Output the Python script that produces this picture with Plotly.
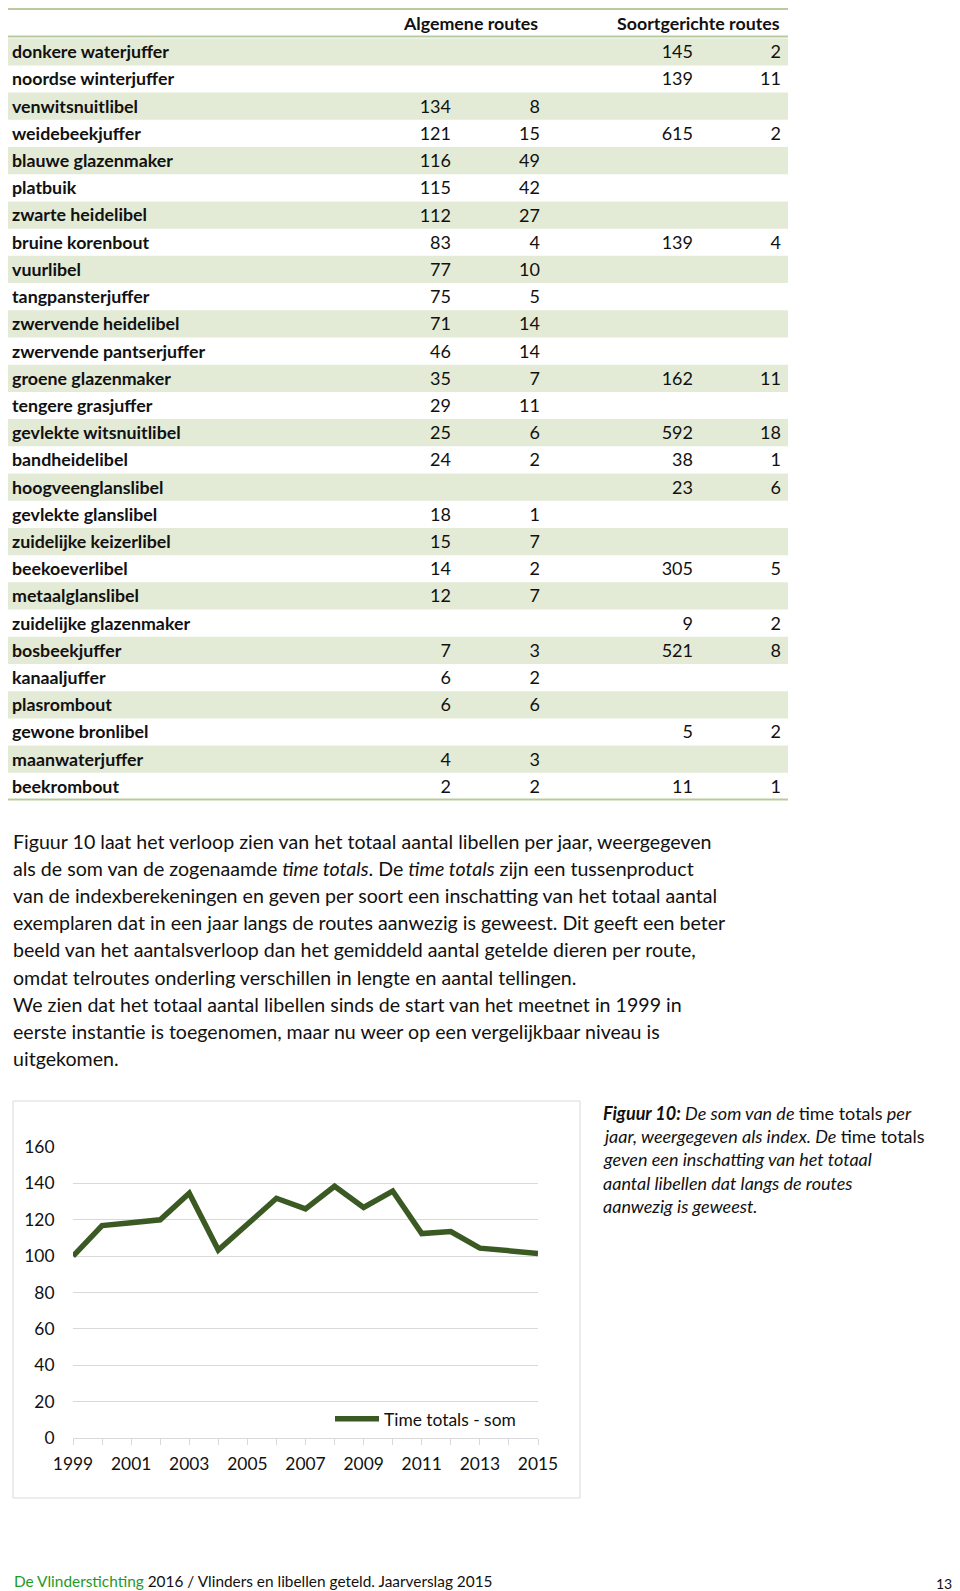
import plotly.graph_objects as go

W, H = 960, 1591
OFF = 8  # page body margin: the figure is drawn 8px right/down of the window corner
def X(px): return (px - OFF) / W
def Y(py): return 1 - (py - OFF) / H

FONT = "Lato"

# ---------------- data ----------------
species = ["donkere waterjuffer", "noordse winterjuffer", "venwitsnuitlibel", "weidebeekjuffer",
           "blauwe glazenmaker", "platbuik", "zwarte heidelibel", "bruine korenbout", "vuurlibel",
           "tangpansterjuffer", "zwervende heidelibel", "zwervende pantserjuffer", "groene glazenmaker",
           "tengere grasjuffer", "gevlekte witsnuitlibel", "bandheidelibel", "hoogveenglanslibel",
           "gevlekte glanslibel", "zuidelijke keizerlibel", "beekoeverlibel", "metaalglanslibel",
           "zuidelijke glazenmaker", "bosbeekjuffer", "kanaaljuffer", "plasrombout", "gewone bronlibel",
           "maanwaterjuffer", "beekrombout"]
alg_a = ["", "", "134", "121", "116", "115", "112", "83", "77", "75", "71", "46", "35", "29", "25", "24",
         "", "18", "15", "14", "12", "", "7", "6", "6", "", "4", "2"]
alg_b = ["", "", "8", "15", "49", "42", "27", "4", "10", "5", "14", "14", "7", "11", "6", "2",
         "", "1", "7", "2", "7", "", "3", "2", "6", "", "3", "2"]
srt_a = ["145", "139", "", "615", "", "", "", "139", "", "", "", "", "162", "", "592", "38",
         "23", "", "", "305", "", "9", "521", "", "", "5", "", "11"]
srt_b = ["2", "11", "", "2", "", "", "", "4", "", "", "", "", "11", "", "18", "1",
         "6", "", "", "5", "", "2", "8", "", "", "2", "", "1"]
header_alg = "Algemene routes"
header_srt = "Soortgerichte routes"

years = list(range(1999, 2016))
time_totals = [100, 116.8, 118.3, 120, 134.6, 103.3, 117.5, 131.8, 126, 138.4, 126.8,
               135.8, 112.4, 113.5, 104.4, 103, 101.5]
series_name = "Time totals - som"

paragraph = [
    "Figuur 10 laat het verloop zien van het totaal aantal libellen per jaar, weergegeven",
    "als de som van de zogenaamde <i>time totals</i>. De <i>time totals</i> zijn een tussenproduct",
    "van de indexberekeningen en geven per soort een inschatting van het totaal aantal",
    "exemplaren dat in een jaar langs de routes aanwezig is geweest. Dit geeft een beter",
    "beeld van het aantalsverloop dan het gemiddeld aantal getelde dieren per route,",
    "omdat telroutes onderling verschillen in lengte en aantal tellingen.",
    "We zien dat het totaal aantal libellen sinds de start van het meetnet in 1999 in",
    "eerste instantie is toegenomen, maar nu weer op een vergelijkbaar niveau is",
    "uitgekomen.",
]
caption = [
    "<b><i>Figuur 10:</i></b><i> De som van de </i>time totals<i> per</i>",
    "<i>jaar, weergegeven als index. De </i>time totals",
    "<i>geven een inschatting van het totaal</i>",
    "<i>aantal libellen dat langs de routes</i>",
    "<i>aanwezig is geweest.</i>",
]
footer_org = "De Vlinderstichting"
footer_rest = " 2016 / Vlinders en libellen geteld. Jaarverslag 2015"
page_no = "13"

# ---------------- styles / layout constants ----------------
BAND = "#e3ebd6"
LINEC = "#b9cb9c"
TXT = "#111111"
TBL_L, TBL_R = 5, 788
NAME_X = 13
COL_R = [450, 539, 692, 780]
ROW_TOP, ROW_BOT = 38.2, 800.0
TXT_SHIFT = 2.0  # text baseline correction inside rows
NAME_FS, NUM_FS = 17.8, 18

fig = go.Figure()

# row bands (every other row)
band_rows = [s for i, s in enumerate(species) if i % 2 == 0]
fig.add_trace(go.Bar(y=band_rows, x=[TBL_R - TBL_L] * len(band_rows), base=TBL_L, orientation="h",
                     width=1, marker=dict(color=BAND, line_width=0), xaxis="x2", yaxis="y2",
                     showlegend=False, hoverinfo="skip"))
# names
fig.add_trace(go.Scatter(y=species, x=[NAME_X - 1] * len(species), text=species, mode="text",
                         textposition="middle right", xaxis="x2", yaxis="y3", showlegend=False,
                         textfont=dict(family=FONT, size=NAME_FS, color=TXT, weight="bold"),
                         hoverinfo="skip"))
for cx, col in zip(COL_R, [alg_a, alg_b, srt_a, srt_b]):
    fig.add_trace(go.Scatter(y=species, x=[cx + 1] * len(species), text=col, mode="text",
                             textposition="middle left", xaxis="x2", yaxis="y3", showlegend=False,
                             textfont=dict(family=FONT, size=NUM_FS, color=TXT), hoverinfo="skip"))

def ann(x, y, text, size, xanchor="left", weight="normal"):
    return dict(x=X(x), y=Y(y), xref="paper", yref="paper", text=text, xanchor=xanchor,
                yanchor="middle", showarrow=False,
                font=dict(family=FONT, size=size, color=TXT, weight=weight))

annotations = [
    ann(540, 22.5, header_alg, NAME_FS, "right", "bold"),
    ann(782, 22.5, header_srt, NAME_FS, "right", "bold"),
]

shapes = []
for yy in (9, 36.5, 799.5):
    shapes.append(dict(type="line", xref="paper", yref="paper", x0=X(TBL_L), x1=X(TBL_R),
                       y0=Y(yy), y1=Y(yy), line=dict(color=LINEC, width=2)))

# paragraph
for i, line in enumerate(paragraph):
    annotations.append(ann(11, 841 + 27.2 * i, line, 19.6))

# chart frame
shapes.append(dict(type="rect", xref="paper", yref="paper", x0=X(13), x1=X(580), y0=Y(1101),
                   y1=Y(1498), line=dict(color="#d9d9d9", width=1), fillcolor="rgba(0,0,0,0)"))

fig.add_trace(go.Scatter(x=years, y=time_totals, mode="lines", name=series_name,
                         line=dict(color="#3b5a23", width=5.5), xaxis="x", yaxis="y"))

# caption
for i, line in enumerate(caption):
    annotations.append(ann(601, 1113 + 23.2 * i, line, 18))

# footer
annotations.append(ann(12, 1581, "<span style='color:#1f9a1f'>" + footer_org + "</span>" + footer_rest, 15.4))
annotations.append(ann(944, 1583, page_no, 14, "center"))

fig.update_layout(
    width=W, height=H, margin=dict(l=0, r=0, t=0, b=0, autoexpand=False),
    paper_bgcolor="white", plot_bgcolor="rgba(0,0,0,0)",
    xaxis=dict(domain=[X(73), X(538)], range=[1999, 2015], tick0=1999, dtick=2,
               showgrid=False, zeroline=False, showline=True, linecolor="#d9d9d9", linewidth=1,
               ticks="outside", ticklen=6, tickcolor="#d9d9d9", automargin=False,
               ticklabelstandoff=4,
               minor=dict(dtick=1, ticks="outside", ticklen=6, tickcolor="#d9d9d9", showgrid=False),
               tickfont=dict(family=FONT, size=17.4, color=TXT), anchor="y"),
    yaxis=dict(domain=[Y(1438), Y(1147)], range=[0, 160], dtick=20, showgrid=True,
               gridcolor="#d9d9d9", gridwidth=1, zeroline=False, showline=False, automargin=False,
               ticks="outside", ticklen=14, tickcolor="rgba(0,0,0,0)",
               tickfont=dict(family=FONT, size=17.4, color=TXT), anchor="x"),
    xaxis2=dict(domain=[0, 1], range=[OFF, W + OFF], visible=False, anchor="y2", fixedrange=True),
    yaxis2=dict(domain=[Y(ROW_BOT), Y(ROW_TOP)], type="category", categoryorder="array",
                categoryarray=species, range=[len(species) - 0.5, -0.5], visible=False,
                anchor="x2", fixedrange=True),
    yaxis3=dict(domain=[Y(ROW_BOT + TXT_SHIFT), Y(ROW_TOP + TXT_SHIFT)], type="category",
                categoryorder="array", categoryarray=species, range=[len(species) - 0.5, -0.5],
                visible=False, anchor="x2", fixedrange=True),
    showlegend=True,
    legend=dict(x=X(330), y=Y(1419), xanchor="left", yanchor="middle", bgcolor="rgba(0,0,0,0)",
                font=dict(family=FONT, size=17.4, color=TXT), itemwidth=44),
    shapes=shapes,
    annotations=annotations,
)

fig.write_html("out.html")
